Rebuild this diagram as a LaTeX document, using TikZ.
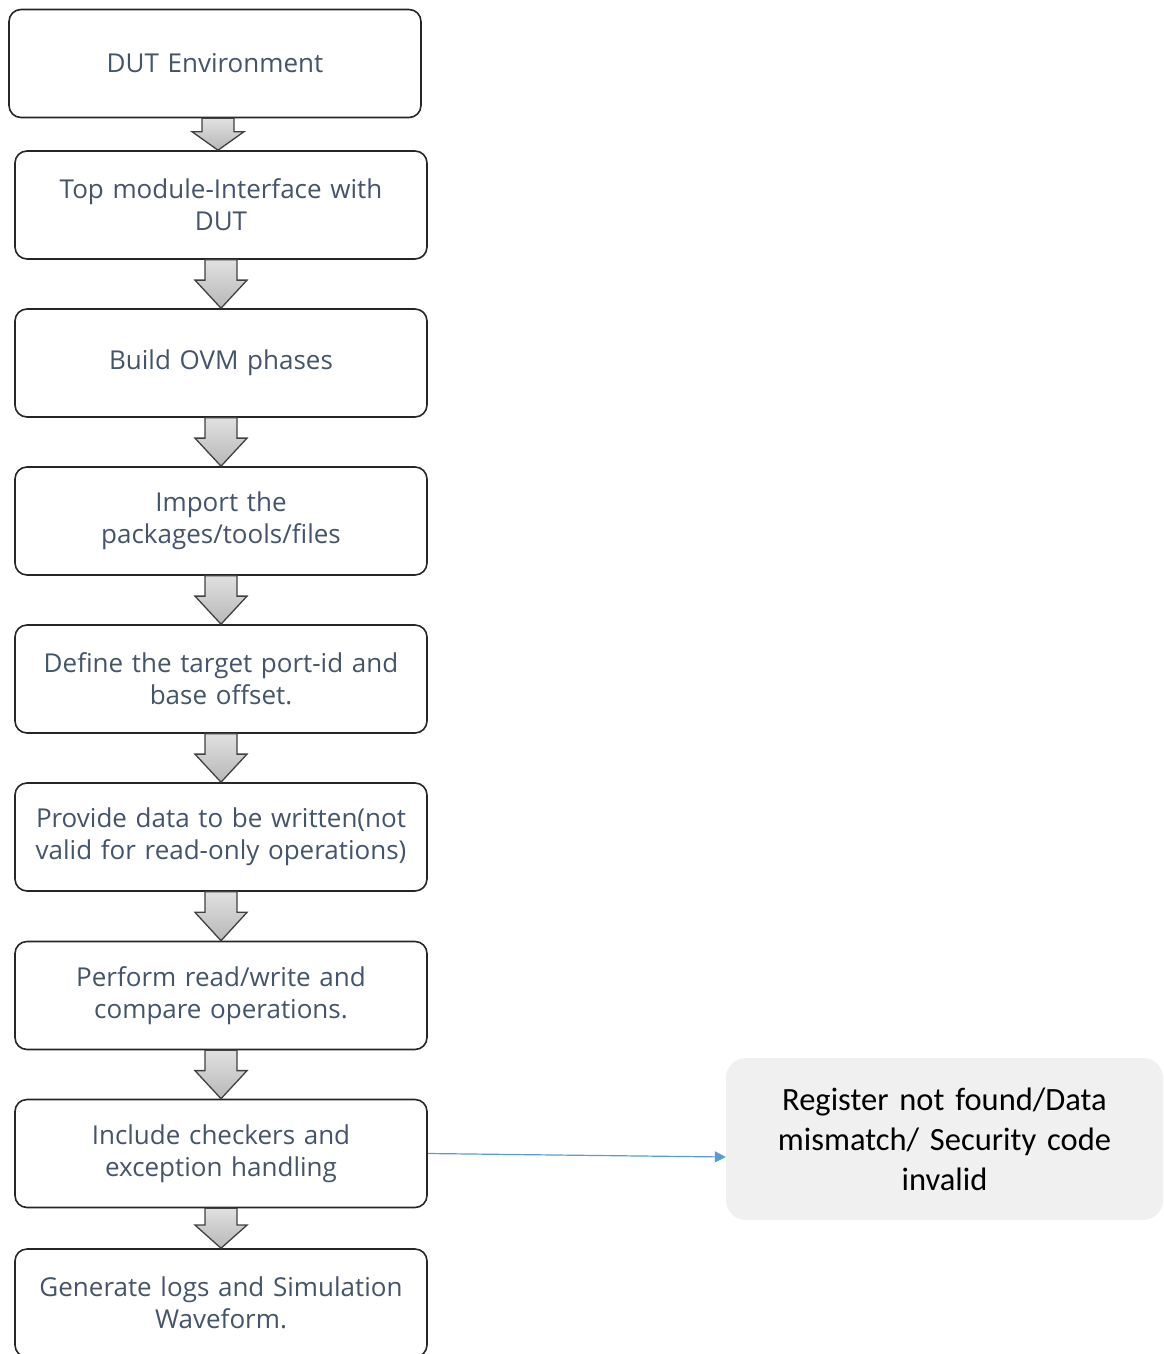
\documentclass[tikz,border=0pt]{standalone}
\usepackage{fontspec}
\setmainfont{Open Sans}
\newfontfamily\calib{Carlito}
\usetikzlibrary{calc,arrows.meta}
\definecolor{txtblue}{HTML}{44546A}
\definecolor{linkblue}{HTML}{5B9BD5}
\definecolor{notefill}{HTML}{F0F0F0}
\definecolor{arrline}{HTML}{404040}
\tikzset{
  stepbox/.style={draw=black!85, line width=1.6pt, rounded corners=12pt, fill=white,
    minimum width=412pt, minimum height=108pt, text width=408pt, align=center,
    text=txtblue, font=\fontsize{26}{32}\selectfont, inner sep=0pt},
  notebox/.style={fill=notefill, rounded corners=20pt, minimum width=437pt, minimum height=162pt,
    text width=430pt, align=center, font=\calib\fontsize{32.5}{40}\selectfont, inner sep=0pt},
  blockarr/.style={draw=arrline, line width=1.3pt, line join=miter, top color=black!12, bottom color=black!28},
  link/.style={draw=linkblue, line width=1.2pt, -{Triangle[length=11pt,width=11pt]}}
}
\newcommand\blockarrow[2]{%
  \path[blockarr] let \p1=(#1.south), \p2=(#2.north), \n1={0.5*(\x1+\x2)}, \n2={\y2+0.58*(\y1-\y2)} in
    (\n1-16pt,\y1) -- (\n1+16pt,\y1) -- (\n1+16pt,\n2) -- (\n1+26pt,\n2) -- (\n1,\y2)
    -- (\n1-26pt,\n2) -- (\n1-16pt,\n2) -- cycle;}
\begin{document}
\begin{tikzpicture}[x=1pt,y=-1pt]
\useasboundingbox (0,0) rectangle (1163,1354);
\node[stepbox] (b1) at (215,63.5) {DUT Environment};
\node[stepbox] (b2) at (221,205) {Top module-Interface with\\DUT};
\node[stepbox] (b3) at (221,363) {Build OVM phases};
\node[stepbox] (b4) at (221,521) {Import the\\packages/tools/files};
\node[stepbox] (b5) at (221,679) {Define the target port-id and\\base offset.};
\node[stepbox] (b6) at (221,837) {Provide data to be written(not\\valid for read-only operations)};
\node[stepbox] (b7) at (221,995.5) {Perform read/write and\\compare operations.};
\node[stepbox] (b8) at (221,1153.5) {Include checkers and\\exception handling};
\node[stepbox] (b9) at (221,1303) {Generate logs and Simulation\\Waveform.};
\node[notebox] (n1) at (944.5,1139) {Register not found/Data\\mismatch/ Security code\\invalid};
\blockarrow{b1}{b2}
\blockarrow{b2}{b3}
\blockarrow{b3}{b4}
\blockarrow{b4}{b5}
\blockarrow{b5}{b6}
\blockarrow{b6}{b7}
\blockarrow{b7}{b8}
\blockarrow{b8}{b9}
\draw[link] (b8.east) -- ($(n1.west)+(0,18)$);
\end{tikzpicture}
\end{document}
